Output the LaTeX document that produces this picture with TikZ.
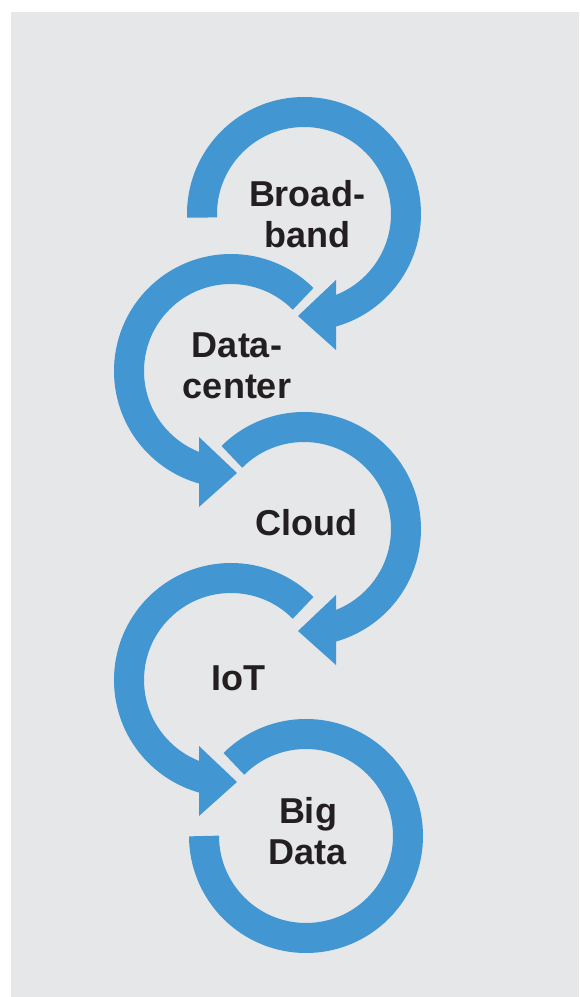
\documentclass[tikz,border=0pt]{standalone}
\usepackage{fontspec}
\setmainfont{Liberation Sans}
\usepackage{tikz}
\definecolor{ringblue}{RGB}{66,150,210}
\definecolor{panelgray}{RGB}{230,231,233}
\definecolor{inkblack}{RGB}{35,31,32}

\begin{document}
\begin{tikzpicture}[x=1pt, y=1pt,
    ring/.style={draw=ringblue, line width=30pt, line cap=butt},
    tip/.style={fill=ringblue},
    word/.style={font=\fontsize{36}{41}\selectfont\bfseries, text=inkblack, align=center, inner sep=0pt}]
            \useasboundingbox (0,0) rectangle (579,997);
            \fill[panelgray] (11,0) rectangle (579,985);
            % centres of the five loops
            \coordinate (broad) at (304,783);
            \coordinate (dc) at (231,626);
            \coordinate (cloud) at (304,468);
            \coordinate (iot) at (231,317);
            \coordinate (big) at (306,161);
            % loops
            \draw[ring] (broad) ++(182:102) arc[start angle=182, end angle=-76, radius=102];
            \draw[ring] (dc) ++(45:102) arc[start angle=45, end angle=256, radius=102];
            \draw[ring] (cloud) ++(135:102) arc[start angle=135, end angle=-76, radius=102];
            \draw[ring] (iot) ++(45:102) arc[start angle=45, end angle=256, radius=102];
            \draw[ring] (big) ++(135:102) arc[start angle=135, end angle=-180, radius=102];
            % arrow heads
            \fill[tip] (broad) ++(32,-66) -- ++(0,-70) -- ++(-38,34) -- cycle;
            \fill[tip] (dc) ++(-32,-66) -- ++(0,-70) -- ++(38,34) -- cycle;
            \fill[tip] (cloud) ++(32,-66) -- ++(0,-70) -- ++(-38,34) -- cycle;
            \fill[tip] (iot) ++(-32,-66) -- ++(0,-70) -- ++(38,34) -- cycle;
            % labels
            \node[word] (broadlbl) at (307,783) {Broad-\\band};
            \node[word] (dclbl) at (237,631) {Data-\\center};
            \node[word] (cloudlbl) at (306.5,474) {Cloud};
            \node[word] (iotlbl) at (238,319) {IoT};
            \node[word] (biglbl) at (308,165.5) {Big\\Data};
        \end{tikzpicture}
\end{document}
